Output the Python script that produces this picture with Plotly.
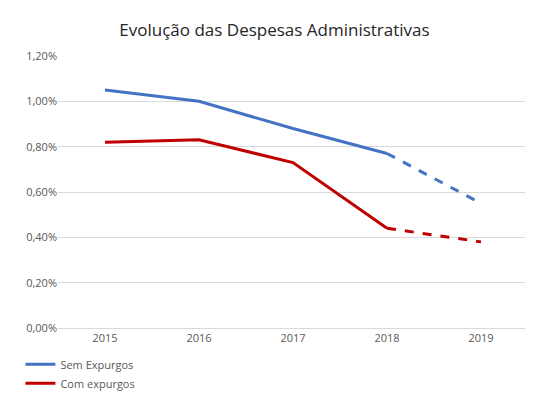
import plotly.graph_objects as go

# Dados do gráfico
anos = ["2015", "2016", "2017", "2018", "2019"]
sem_expurgos = [1.05, 1.00, 0.88, 0.77, 0.55]
com_expurgos = [0.82, 0.83, 0.73, 0.44, 0.38]
y_ticks = [0, 0.2, 0.4, 0.6, 0.8, 1.0, 1.2]
y_labels = ["0,00%", "0,20%", "0,40%", "0,60%", "0,80%", "1,00%", "1,20%"]

azul = "#4472C4"
vermelho = "#C00000"

def fmt(v):
    return f"{v:.2f}%".replace(".", ",")

fig = go.Figure()

# parte realizada (linha cheia) e projeção (tracejada)
fig.add_trace(go.Scatter(x=anos[:4], y=sem_expurgos[:4], mode="lines", name="Sem Expurgos",
                         line=dict(color=azul, width=3)))
fig.add_trace(go.Scatter(x=anos[3:], y=sem_expurgos[3:], mode="lines", showlegend=False,
                         line=dict(color=azul, width=3, dash="dash")))
fig.add_trace(go.Scatter(x=anos[:4], y=com_expurgos[:4], mode="lines", name="Com expurgos",
                         line=dict(color=vermelho, width=3)))
fig.add_trace(go.Scatter(x=anos[3:], y=com_expurgos[3:], mode="lines", showlegend=False,
                         line=dict(color=vermelho, width=3, dash="dash")))

# rótulos
for a, v in zip(anos, sem_expurgos):
    fig.add_annotation(x=a, y=v, text=fmt(v), showarrow=False, yshift=16,
                       font=dict(color="#404040", size=12))
for a, v in zip(anos, com_expurgos):
    fig.add_annotation(x=a, y=v, text=fmt(v), showarrow=False, yshift=-17,
                       font=dict(color="#404040", size=12))

fig.update_layout(
    width=533, height=402,
    paper_bgcolor="white", plot_bgcolor="white",
    font=dict(family="Open Sans, Liberation Sans, sans-serif", color="#595959", size=11),
    title=dict(text="Evolução das Despesas Administrativas", x=0.5, y=0.96,
               font=dict(size=17, color="#262626")),
    margin=dict(l=50, r=13, t=48, b=60),
    legend=dict(orientation="h", x=-0.08, y=-0.08, xanchor="left", yanchor="top",
                font=dict(size=11, color="#595959"), entrywidth=230, entrywidthmode="pixels"),
    showlegend=True,
)
fig.update_xaxes(range=[-0.5, 4.5], showgrid=False, showline=True, linecolor="#D9D9D9",
                 ticks="", tickfont=dict(size=11))
fig.update_yaxes(range=[0, 1.2], tickvals=y_ticks, ticktext=y_labels, gridcolor="#D9D9D9",
                 zeroline=False, tickfont=dict(size=11))

fig.write_html("out.html")
